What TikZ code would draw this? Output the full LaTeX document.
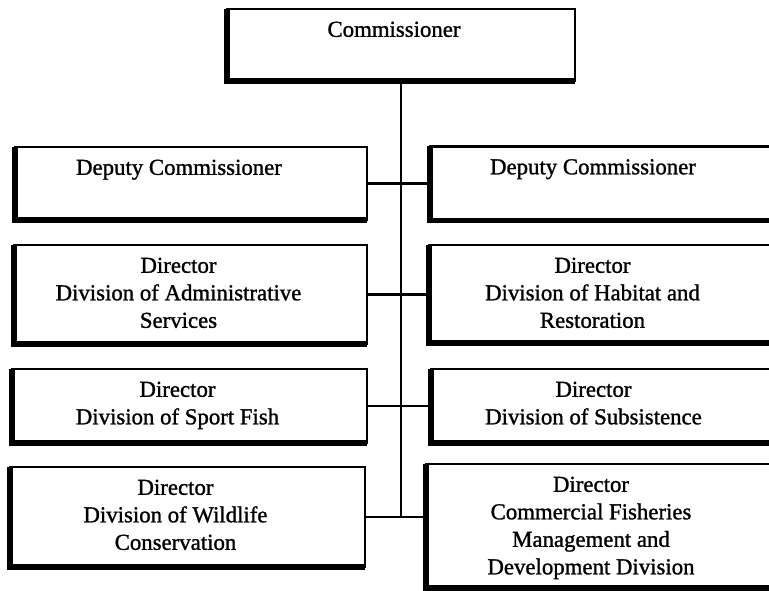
\documentclass[tikz,border=0pt]{standalone}
\usepackage{fontspec}
\setmainfont{Liberation Serif}
\newfontfamily\orgfont[FakeBold=1.2]{Liberation Serif}
\begin{document}
\begin{tikzpicture}[
  x=1pt, y=-1pt,
  unit/.style 2 args={draw, line width=2.4pt, minimum width=#1, minimum height=#2, inner sep=0pt, outer sep=0pt},
  unittext/.style={anchor=north, yshift=-12.5pt, xshift=-12pt, align=center, inner sep=0pt, font=\orgfont\fontsize{22.8}{27.5}\selectfont},
  heavy/.style={line width=5.5pt},
  link/.style={line width=2.2pt}
]
  \useasboundingbox (0,0) rectangle (769,591);

  % Top
  \node[unit={348}{72}, label={[unittext, xshift=5pt, name=commtxt]north:Commissioner}] (comm) at (401,45) {};

  % Left column
  \node[unit={352}{73}, label={[unittext, name=depLtxt]north:Deputy Commissioner}] (depL) at (191,183.5) {};
  \node[unit={353}{99}, label={[unittext, name=admLtxt]north:Director\\Division of Administrative\\Services}] (admL) at (190.5,294.5) {};
  \node[unit={355}{74}, label={[unittext, name=sportLtxt]north:Director\\Division of Sport Fish}] (sportL) at (189.5,406) {};
  \node[unit={355}{100}, label={[unittext, name=wildLtxt]north:Director\\Division of Wildlife\\Conservation}] (wildL) at (187.5,517) {};

  % Right column
  \node[unit={350}{74}, label={[unittext, name=depRtxt]north:Deputy Commissioner}] (depR) at (605,183.5) {};
  \node[unit={351}{98}, label={[unittext, name=habRtxt]north:Director\\Division of Habitat and\\Restoration}] (habR) at (604.5,294) {};
  \node[unit={349}{74}, label={[unittext, name=subsRtxt]north:Director\\Division of Subsistence}] (subsR) at (605.5,406) {};
  \node[unit={354}{124}, label={[unittext, name=comfRtxt]north:Director\\Commercial Fisheries\\Management and\\Development Division}] (comfR) at (603,526) {};

  % Heavy left and bottom edges
  \foreach \n in {comm,depL,admL,sportL,wildL,depR,habR,subsR,comfR}
    \draw[heavy] (\n.north west) |- (\n.south east);

  % Trunk and branches
  \coordinate (trunkend) at (comm.south |- wildL.east);
  \draw[link] (comm.south) -- (trunkend);
  \foreach \l/\r in {depL/depR, admL/habR, sportL/subsR, wildL/comfR}
    \draw[link] (\l.east) -- (\l.east -| \r.west);
\end{tikzpicture}
\end{document}
